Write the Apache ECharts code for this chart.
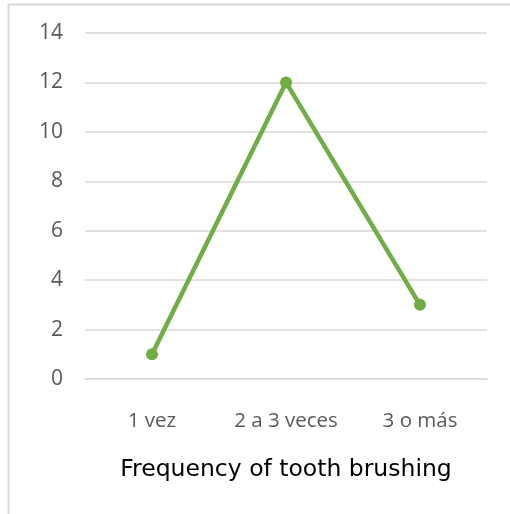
<!DOCTYPE html>
<html>
<head>
<meta charset="utf-8">
<script src="https://cdn.jsdelivr.net/npm/echarts@6/dist/echarts.min.js"></script>
<style>html,body{margin:0;padding:0;background:#fff;}#c{width:510px;height:514px;}</style>
</head>
<body>
<div id="c"></div>
<script>
const categories = ["1 vez", "2 a 3 veces", "3 o más"];
const values = [1, 12, 3];
const axisTitle = "Frequency of tooth brushing";

const chart = echarts.init(document.getElementById('c'), null, {renderer: 'canvas'});
chart.setOption({
  animation: false,
  backgroundColor: '#fff',
  graphic: [{
    type: 'rect',
    shape: {x: 8.5, y: 4.5, width: 700, height: 700},
    style: {fill: 'none', stroke: '#d9d9d9', lineWidth: 2},
    silent: true
  }],
  grid: {left: 85, right: 23, top: 33, bottom: 135},
  xAxis: {
    type: 'category',
    data: categories,
    boundaryGap: true,
    axisLine: {show: true, lineStyle: {color: '#d9d9d9', width: 1.5}},
    axisTick: {show: false},
    axisLabel: {color: '#595959', fontSize: 20.5, fontFamily: 'Open Sans', margin: 32, interval: 0, hideOverlap: false},
    name: axisTitle,
    nameLocation: 'middle',
    nameGap: 79,
    nameTextStyle: {color: '#000', fontSize: 23.5, fontFamily: 'DejaVu Sans'}
  },
  yAxis: {
    type: 'value',
    min: 0, max: 14, interval: 2,
    axisLine: {show: false},
    axisTick: {show: false},
    splitLine: {lineStyle: {color: '#d9d9d9', width: 1.5}},
    axisLabel: {color: '#595959', fontSize: 21, fontFamily: 'Open Sans', margin: 22}
  },
  series: [{
    type: 'line',
    data: values,
    symbol: 'circle',
    symbolSize: 12,
    lineStyle: {color: '#70ad47', width: 4.5},
    itemStyle: {color: '#70ad47'}
  }]
});
</script>
</body>
</html>
